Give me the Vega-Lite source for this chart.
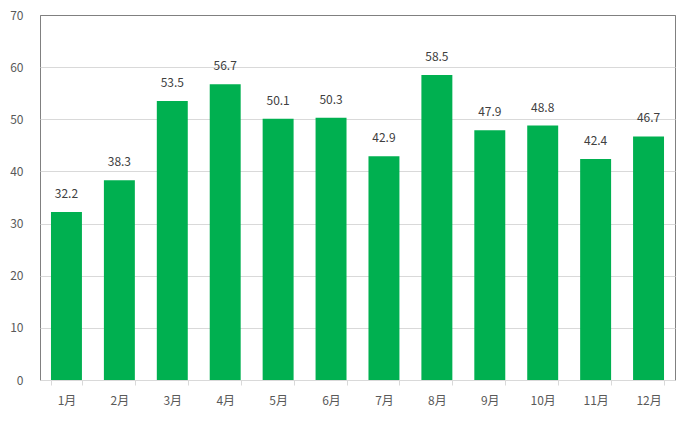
{
  "$schema": "https://vega.github.io/schema/vega-lite/v6.json",
  "width": 635,
  "height": 365,
  "autosize": {"type": "none"},
  "padding": {"left": 40, "top": 15, "right": 19, "bottom": 41},
  "background": "white",
  "config": {
    "view": {"stroke": "#808080", "strokeWidth": 1},
    "font": "Noto Sans CJK JP"
  },
  "data": {
    "values": [
      {"month": "1月", "value": 32.2},
      {"month": "2月", "value": 38.3},
      {"month": "3月", "value": 53.5},
      {"month": "4月", "value": 56.7},
      {"month": "5月", "value": 50.1},
      {"month": "6月", "value": 50.3},
      {"month": "7月", "value": 42.9},
      {"month": "8月", "value": 58.5},
      {"month": "9月", "value": 47.9},
      {"month": "10月", "value": 48.8},
      {"month": "11月", "value": 42.4},
      {"month": "12月", "value": 46.7}
    ]
  },
  "encoding": {
    "x": {
      "field": "month",
      "type": "nominal",
      "sort": null,
      "scale": {"paddingInner": 0.415, "paddingOuter": 0.2075},
      "axis": {
        "title": null,
        "labelAngle": 0,
        "labelColor": "#595959",
        "labelFontSize": 12,
        "labelPadding": 10,
        "domainColor": "#d9d9d9",
        "tickColor": "#d9d9d9",
        "tickSize": 5,
        "tickBand": "extent",
        "grid": false
      }
    },
    "y": {
      "field": "value",
      "type": "quantitative",
      "scale": {"domain": [0, 70]},
      "axis": {
        "title": null,
        "values": [0, 10, 20, 30, 40, 50, 60, 70],
        "labelColor": "#595959",
        "labelFontSize": 12,
        "labelPadding": 17,
        "ticks": false,
        "domain": false,
        "gridColor": {"condition": {"test": "datum.value === 70", "value": "#808080"}, "value": "#d9d9d9"},
        "gridWidth": 1
      }
    }
  },
  "layer": [
    {"mark": {"type": "bar", "color": "#00B050"}},
    {
      "mark": {"type": "text", "baseline": "alphabetic", "dy": -14, "color": "#404040", "fontSize": 12},
      "encoding": {"text": {"field": "value", "type": "quantitative", "format": ".1f"}}
    }
  ]
}
